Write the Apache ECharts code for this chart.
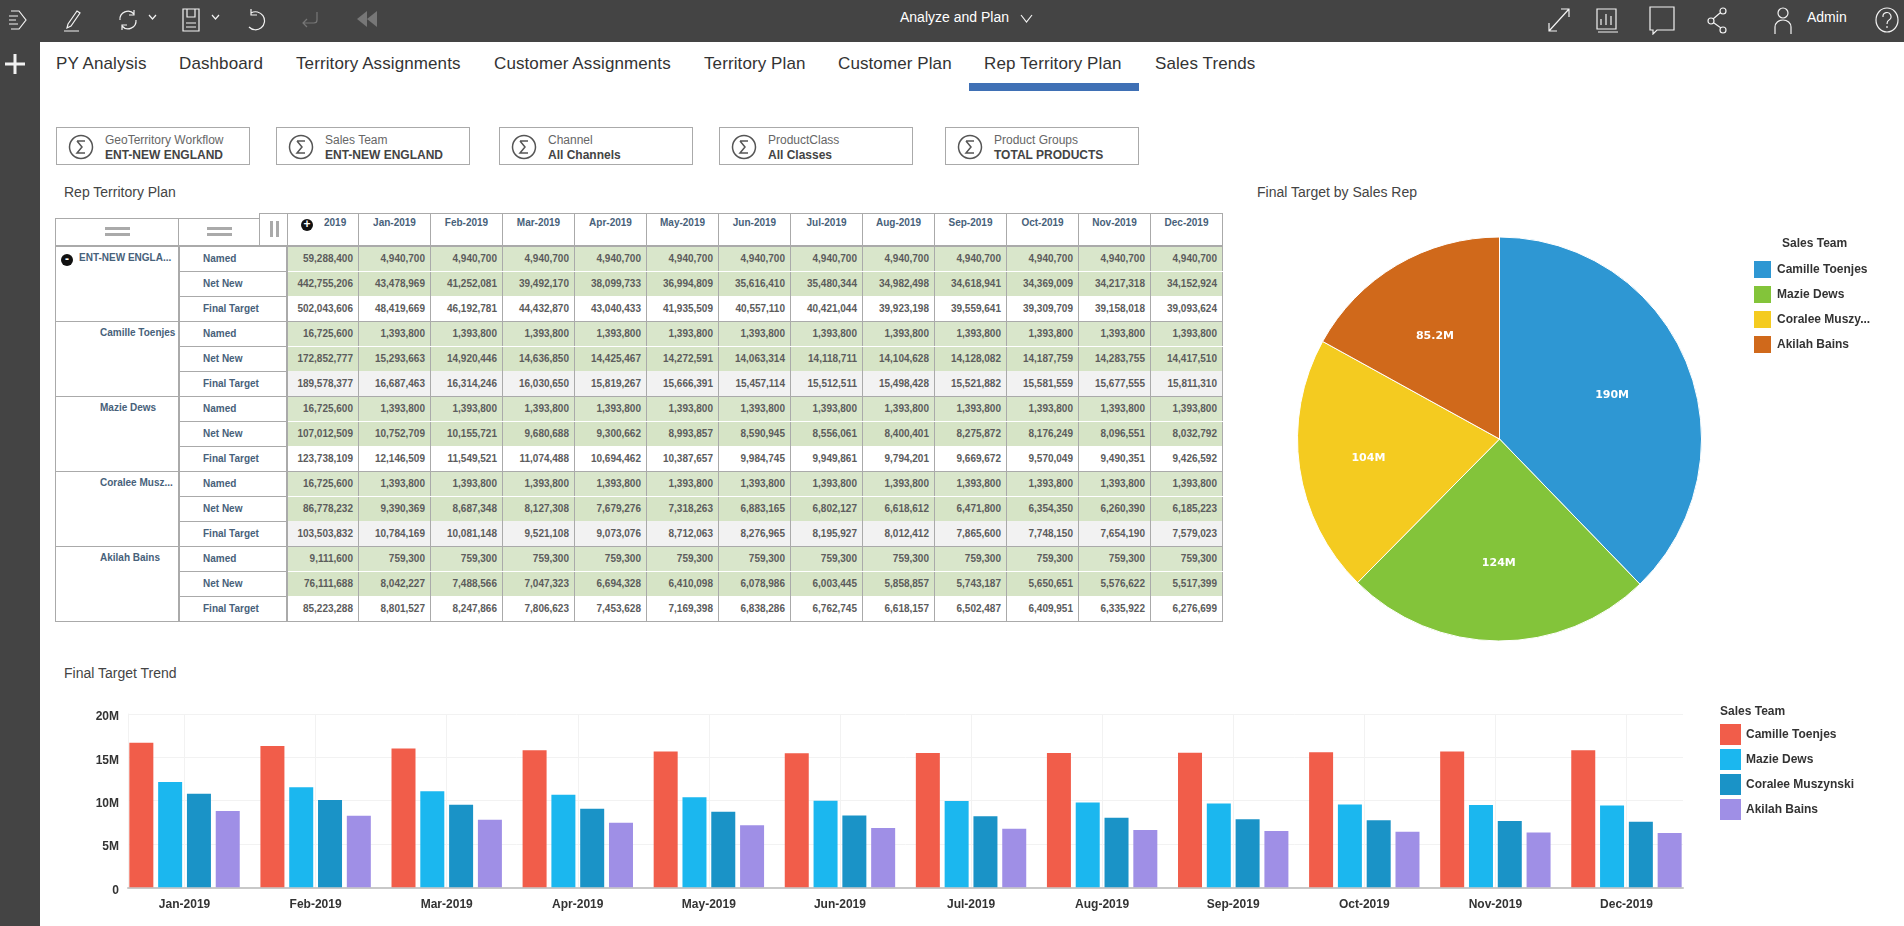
<!DOCTYPE html>
<html>
<head>
<meta charset="utf-8">
<title>Rep Territory Plan</title>
<script src="https://cdn.jsdelivr.net/npm/echarts@6/dist/echarts.min.js"></script>
<style>
    html, body { margin: 0; padding: 0; width: 1904px; height: 926px; overflow: hidden; background: #fff;
        font-family: "Liberation Sans", Arial, sans-serif; color: #333; }
    .abs { position: absolute; white-space: nowrap; }
    #topbar { position: absolute; left: 0; top: 0; width: 1904px; height: 42px; background: #444; }
    #sidebar { position: absolute; left: 0; top: 42px; width: 40px; height: 884px; background: #444; }
    #topbar svg, #sidebar svg { position: absolute; fill: none; stroke: #f2f2f2; stroke-width: 1.2; }
    .toptext { color: #fff; font-size: 14px; top: 9px; }
    .tab { font-size: 17px; color: #333; top: 54px; line-height: 20px; letter-spacing: 0.1px; }
    #tabline { position: absolute; left: 969px; top: 83px; width: 170px; height: 8px; background: #3f70b5; }
    .filter { position: absolute; top: 127px; width: 192px; height: 36px; border: 1px solid #aaa; background: #fff; }
    .filter svg { position: absolute; left: 11px; top: 6px; }
    .filter .l1 { position: absolute; left: 48px; top: 5px; font-size: 12px; color: #666; white-space: nowrap; }
    .filter .l2 { position: absolute; left: 48px; top: 20px; font-size: 12px; color: #444; font-weight: bold; white-space: nowrap; }
    .sectitle { font-size: 14px; color: #444; }
    table { border-collapse: collapse; table-layout: fixed; position: absolute; font-size: 10px; font-weight: bold; }
    #headtable { left: 287px; top: 213px; border: 1px solid #aaa; }
    #headtable td { height: 31px; width: 71px; border-left: 1px solid #aaa; padding: 0; color: #47617a;
        text-align: center; vertical-align: top; line-height: 17px; }
    #headtable td:first-child { text-align: left; padding-left: 36px; width: 34px; }
    #bodytable { left: 55px; top: 245px; border: 1px solid #aaa; border-top: 2px solid #aaa; }
    #bodytable tr { height: 25px; }
    #bodytable td { padding: 0; box-sizing: content-box; overflow: hidden; white-space: nowrap; }
    #bodytable td.group { width: 122px; vertical-align: top; color: #47617a; border-right: 2px solid #aaa;
        border-top: 1px solid #aaa; text-align: left; padding-top: 5px; }
    #bodytable td.rowname { width: 106px; color: #47617a; border-bottom: 1px solid #aaa; border-right: 2px solid #aaa;
        padding-left: 0; text-indent: 23px; }
    #bodytable td.num { width: 66px; text-align: right; padding-right: 5px; color: #5c5c5c; border-right: 1px solid #aaa; }
    #bodytable td.total { width: 65px; }
    #bodytable tr.named td.num { background: #d9e6cb; border-bottom: 1px solid #fff; }
    #bodytable tr.netnew td.num { background: #d6e4c6; }
    #bodytable tr.final td.num { background: #fff; }
    #bodytable tr.alt td.num { background: #f2f2f2; }
    #bodytable tr.lastrow td { border-bottom: 1px solid #aaa; }
    #bodytable tr.named td { border-top: 1px solid #aaa; }
    .handle { position: absolute; background: #fff; border: 1px solid #aaa; box-sizing: border-box; }
    .handle i { position: absolute; background: #aaa; }
    .expander { position: absolute; width: 12px; height: 12px; border-radius: 50%; background: #111; color: #fff;
        font: bold 12px/11px "Liberation Sans", Arial, sans-serif; text-align: center; }
    #pieChart { position: absolute; left: 1240px; top: 170px; width: 664px; height: 490px; }
    #barChart { position: absolute; left: 40px; top: 690px; width: 1864px; height: 236px; }
</style>
</head>
<body>
<div id="topbar">
    <svg style="left:8px;top:8px" width="20" height="24" viewBox="0 0 20 24"><path d="M3 3h8l7 9-7 9H3M1 8h9M1 12h7M1 16h9"/></svg>
    <svg style="left:62px;top:7px" width="20" height="26" viewBox="0 0 20 26"><path d="M6 17l9-13 3 2-9 13-4 2zM2 24h15"/></svg>
    <svg style="left:116px;top:7px" width="24" height="26" viewBox="0 0 24 26"><path d="M4 13a8 8 0 0 1 14-6M20 13a8 8 0 0 1-14 6M18 3v5h-5M6 23v-5h5"/></svg>
    <svg style="left:148px;top:14px" width="9" height="7" viewBox="0 0 9 7"><path d="M1 1l3.500 4 3.500-4"/></svg>
    <svg style="left:181px;top:7px" width="20" height="26" viewBox="0 0 20 26"><path d="M2 2h16v22H2zM6 2v8h8V2M5 16h10M5 20h10"/></svg>
    <svg style="left:211px;top:14px" width="9" height="7" viewBox="0 0 9 7"><path d="M1 1l3.500 4 3.500-4"/></svg>
    <svg style="left:243px;top:7px" width="24" height="26" viewBox="0 0 24 26"><path d="M8 6a9 9 0 1 1-2 14M8 2v6h6"/></svg>
    <svg style="left:299px;top:9px;stroke:#777" width="22" height="20" viewBox="0 0 22 20"><path d="M18 3v8a3 3 0 0 1-3 3H4M8 10l-4 4 4 4"/></svg>
    <svg style="left:356px;top:9px;fill:#777;stroke:none" width="22" height="20" viewBox="0 0 22 20"><path d="M11 2v16L1 10zM21 2v16L11 10z"/></svg>
    <span class="abs toptext" style="left:900px">Analyze and Plan</span>
    <svg style="left:1020px;top:14px" width="13" height="10" viewBox="0 0 13 10"><path d="M1 1l5.500 7L12 1"/></svg>
    <svg style="left:1546px;top:6px" width="26" height="28" viewBox="0 0 26 28"><path d="M3 25L23 3M15 3h8v8M3 17v8h8"/></svg>
    <svg style="left:1595px;top:6px" width="24" height="28" viewBox="0 0 24 28"><path d="M2 3h19v20H2zM3 26h20M6 19v-6M11 19V8M16 19v-9" /></svg>
    <svg style="left:1648px;top:5px" width="28" height="30" viewBox="0 0 28 30"><path d="M2 2h24v23H9l-4 4v-4H2z"/></svg>
    <svg style="left:1706px;top:5px" width="24" height="30" viewBox="0 0 24 30"><circle cx="17" cy="6" r="3"/><circle cx="5" cy="16" r="3"/><circle cx="17" cy="25" r="3"/><path d="M14 8l-7 6M8 18l7 5"/></svg>
    <svg style="left:1771px;top:6px" width="24" height="30" viewBox="0 0 24 30"><circle cx="12" cy="7" r="5"/><path d="M4 28v-7a8 7 0 0 1 16 0v7"/></svg>
    <span class="abs toptext" style="left:1807px">Admin</span>
    <svg style="left:1874px;top:5px" width="26" height="30" viewBox="0 0 26 30"><ellipse cx="13" cy="15" rx="11" ry="12"/><path d="M9 12a4 4 0 1 1 6 3c-2 1-2 2-2 4M13 21v2"/></svg>
</div>
<div id="sidebar">
    <svg style="left:4px;top:11px;stroke-width:3" width="22" height="22" viewBox="0 0 22 22"><path d="M11 1v20M1 11h20"/></svg>
</div>
<div id="tabs"></div>
<div id="tabline"></div>
<div id="filters"></div>
<div class="abs sectitle" style="left:64px;top:184px">Rep Territory Plan</div>
<div class="abs sectitle" style="left:1257px;top:184px">Final Target by Sales Rep</div>
<div class="abs sectitle" style="left:64px;top:665px">Final Target Trend</div>

<div class="handle" style="left:55px;top:218px;width:124px;height:28px"><i style="left:49px;top:8px;width:25px;height:3px"></i><i style="left:49px;top:14px;width:25px;height:3px"></i></div>
<div class="handle" style="left:178px;top:218px;width:82px;height:28px"><i style="left:28px;top:8px;width:25px;height:3px"></i><i style="left:28px;top:14px;width:25px;height:3px"></i></div>
<div class="handle" style="left:259px;top:213px;width:29px;height:33px"><i style="left:10px;top:7px;width:3px;height:16px"></i><i style="left:16px;top:7px;width:3px;height:16px"></i></div>
<table id="headtable"></table>
<table id="bodytable"></table>
<div class="expander" style="left:301px;top:219px">+</div>
<div class="expander" style="left:61px;top:254px">-</div>

<div id="pieChart"></div>
<div id="barChart"></div>

<script>
var tabNames = ['PY Analysis', 'Dashboard', 'Territory Assignments', 'Customer Assignments', 'Territory Plan', 'Customer Plan', 'Rep Territory Plan', 'Sales Trends'];
var tabLefts = [56, 179, 296, 494, 704, 838, 984, 1155];
var filterLabels = ['GeoTerritory Workflow', 'Sales Team', 'Channel', 'ProductClass', 'Product Groups'];
var filterValues = ['ENT-NEW ENGLAND', 'ENT-NEW ENGLAND', 'All Channels', 'All Classes', 'TOTAL PRODUCTS'];
var filterLefts = [56, 276, 499, 719, 945];

var months = ['Jan-2019', 'Feb-2019', 'Mar-2019', 'Apr-2019', 'May-2019', 'Jun-2019', 'Jul-2019', 'Aug-2019', 'Sep-2019', 'Oct-2019', 'Nov-2019', 'Dec-2019'];
var repNames = ['Camille Toenjes', 'Mazie Dews', 'Coralee Muszynski', 'Akilah Bains'];
var groupLabels = ['ENT-NEW ENGLA...', 'Camille Toenjes', 'Mazie Dews', 'Coralee Musz...', 'Akilah Bains'];
var rowLabels = ['Named', 'Net New', 'Final Target'];
var yTickLabels = ['0', '5M', '10M', '15M', '20M'];

// first value of every row is the 2019 total, the rest are Jan..Dec
var entNamed = [59288400, 4940700, 4940700, 4940700, 4940700, 4940700, 4940700, 4940700, 4940700, 4940700, 4940700, 4940700, 4940700];
var entNetNew = [442755206, 43478969, 41252081, 39492170, 38099733, 36994809, 35616410, 35480344, 34982498, 34618941, 34369009, 34217318, 34152924];
var entFinal = [502043606, 48419669, 46192781, 44432870, 43040433, 41935509, 40557110, 40421044, 39923198, 39559641, 39309709, 39158018, 39093624];
var camilleNamed = [16725600, 1393800, 1393800, 1393800, 1393800, 1393800, 1393800, 1393800, 1393800, 1393800, 1393800, 1393800, 1393800];
var camilleNetNew = [172852777, 15293663, 14920446, 14636850, 14425467, 14272591, 14063314, 14118711, 14104628, 14128082, 14187759, 14283755, 14417510];
var camilleFinal = [189578377, 16687463, 16314246, 16030650, 15819267, 15666391, 15457114, 15512511, 15498428, 15521882, 15581559, 15677555, 15811310];
var mazieNamed = [16725600, 1393800, 1393800, 1393800, 1393800, 1393800, 1393800, 1393800, 1393800, 1393800, 1393800, 1393800, 1393800];
var mazieNetNew = [107012509, 10752709, 10155721, 9680688, 9300662, 8993857, 8590945, 8556061, 8400401, 8275872, 8176249, 8096551, 8032792];
var mazieFinal = [123738109, 12146509, 11549521, 11074488, 10694462, 10387657, 9984745, 9949861, 9794201, 9669672, 9570049, 9490351, 9426592];
var coraleeNamed = [16725600, 1393800, 1393800, 1393800, 1393800, 1393800, 1393800, 1393800, 1393800, 1393800, 1393800, 1393800, 1393800];
var coraleeNetNew = [86778232, 9390369, 8687348, 8127308, 7679276, 7318263, 6883165, 6802127, 6618612, 6471800, 6354350, 6260390, 6185223];
var coraleeFinal = [103503832, 10784169, 10081148, 9521108, 9073076, 8712063, 8276965, 8195927, 8012412, 7865600, 7748150, 7654190, 7579023];
var akilahNamed = [9111600, 759300, 759300, 759300, 759300, 759300, 759300, 759300, 759300, 759300, 759300, 759300, 759300];
var akilahNetNew = [76111688, 8042227, 7488566, 7047323, 6694328, 6410098, 6078986, 6003445, 5858857, 5743187, 5650651, 5576622, 5517399];
var akilahFinal = [85223288, 8801527, 8247866, 7806623, 7453628, 7169398, 6838286, 6762745, 6618157, 6502487, 6409951, 6335922, 6276699];

var pieColors = ['#2e97d3', '#83c43a', '#f4cb20', '#d0691b'];
var barColors = ['#f15d4a', '#1bb7ef', '#1a93c7', '#9f8fe6'];

/**
 * 页面上的标签和筛选框
 */
function buildChrome() {
    var html = '';
    for (var i in tabNames) {
        html += '<span class="abs tab" style="left:' + tabLefts[i] + 'px">' + tabNames[i] + '</span>';
    }
    document.getElementById('tabs').innerHTML = html;

    var sigma = '<svg width="26" height="26" viewBox="0 0 26 26"><circle cx="13" cy="13" r="11.500" fill="none" stroke="#555" stroke-width="1.500"/>'
        + '<path d="M9 7h8M9 7l5 6-5 6h8" fill="none" stroke="#555" stroke-width="1.500"/></svg>';
    html = '';
    for (var j in filterLabels) {
        html += '<div class="filter" style="left:' + filterLefts[j] + 'px">' + sigma
            + '<div class="l1">' + filterLabels[j] + '</div><div class="l2">' + filterValues[j] + '</div></div>';
    }
    document.getElementById('filters').innerHTML = html;
}

/**
 * 生成表格
 */
function buildTable() {
    var head = '<tr><td>2019</td>';
    for (var m in months) {
        head += '<td>' + months[m] + '</td>';
    }
    document.getElementById('headtable').innerHTML = head + '</tr>';

    var groups = [
        [entNamed, entNetNew, entFinal],
        [camilleNamed, camilleNetNew, camilleFinal],
        [mazieNamed, mazieNetNew, mazieFinal],
        [coraleeNamed, coraleeNetNew, coraleeFinal],
        [akilahNamed, akilahNetNew, akilahFinal]
    ];
    var rowClass = ['named', 'netnew', 'final'];
    var body = '';
    for (var g = 0; g < groups.length; g++) {
        for (var r = 0; r < 3; r++) {
            var cls = rowClass[r];
            if (r == 2 && (g == 1 || g == 3)) cls += ' alt';
            if (r == 2) cls += ' lastrow';
            body += '<tr class="' + cls + '">';
            if (r == 0) {
                var pad = g == 0 ? 23 : 44;
                body += '<td class="group" rowspan="3" style="padding-left:' + pad + 'px;width:' + (122 - pad) + 'px">' + groupLabels[g] + '</td>';
            }
            body += '<td class="rowname">' + rowLabels[r] + '</td>';
            for (var c = 0; c < 13; c++) {
                body += '<td class="num' + (c == 0 ? ' total' : '') + '">' + groups[g][r][c].toLocaleString('en-US') + '</td>';
            }
            body += '</tr>';
        }
    }
    document.getElementById('bodytable').innerHTML = body;
}

function displayPie() {
    var pieChart = echarts.init(document.getElementById('pieChart'));
    var pieTotals = [camilleFinal[0], mazieFinal[0], coraleeFinal[0], akilahFinal[0]];
    var pieLabels = ['190M', '124M', '104M', '85.2M'];
    var pieData = [];
    for (var i in repNames) {
        pieData.push({ name: repNames[i], value: pieTotals[i], itemStyle: { color: pieColors[i] } });
    }
    pieChart.setOption({
        animation: false,
        title: {
            text: 'Sales Team', left: 542, top: 68, padding: 0,
            textStyle: { fontFamily: 'Liberation Sans', fontSize: 12, fontWeight: 'bold', color: '#333' }
        },
        legend: {
            left: 512, top: 89, padding: 0, orient: 'vertical', icon: 'rect', itemWidth: 19, itemHeight: 19, itemGap: 4,
            data: repNames,
            textStyle: { fontFamily: 'Liberation Sans', fontSize: 12, fontWeight: 'bold', color: '#333', width: 98, overflow: 'truncate', ellipsis: '...' }
        },
        series: [{
            type: 'pie',
            center: [259.5, 269],
            radius: [0, 202],
            startAngle: 90,
            clockwise: true,
            data: pieData,
            itemStyle: { borderColor: '#fff', borderWidth: 1 },
            labelLine: { show: false },
            label: {
                position: 'inside', color: '#fff', fontFamily: 'DejaVu Sans', fontSize: 11, fontWeight: 'bold',
                formatter: function (p) { return pieLabels[p.dataIndex]; }
            },
            // 标签放在 0.6 半径处，inside 默认是 0.5
            labelLayout: function (p) {
                var mx = p.rect.x + p.rect.width / 2;
                var my = p.rect.y + p.rect.height / 2;
                var nudgeX = [-4, 0, -8, 6];
                var nudgeY = [1, 0, 0, 7];
                return { dx: (mx - 259.5) * 0.2 + nudgeX[p.dataIndex], dy: (my - 269) * 0.2 + nudgeY[p.dataIndex] };
            }
        }]
    });
}

function displayBars() {
    var barChart = echarts.init(document.getElementById('barChart'));
    var repFinals = [camilleFinal, mazieFinal, coraleeFinal, akilahFinal];
    var series = [];
    for (var i in repNames) {
        series.push({
            name: repNames[i], type: 'bar', xAxisIndex: 0, yAxisIndex: 0,
            data: repFinals[i].slice(1),
            barWidth: 24, barGap: '20%',
            itemStyle: { color: barColors[i] }
        });
    }
    var labelFont = { fontFamily: 'Liberation Sans', fontSize: 12, fontWeight: 'bold', color: '#333' };
    barChart.setOption({
        animation: false,
        title: {
            text: 'Sales Team', left: 1680, top: 16, padding: 0,
            textStyle: labelFont
        },
        legend: {
            left: 1680, top: 34, padding: 0, orient: 'vertical', icon: 'rect', itemWidth: 21, itemHeight: 21, itemGap: 4,
            data: repNames,
            textStyle: labelFont
        },
        // grid 0 holds the bars, grid 1 only the shorter axis lines and the y labels
        grid: [
            { left: 79, top: 24, width: 1573, height: 173.300 },
            { left: 88, top: 24, width: 1555, height: 173.300 }
        ],
        xAxis: [{
            gridIndex: 0, type: 'category', data: months,
            axisLine: { show: false },
            axisTick: { show: false },
            axisLabel: Object.assign({ margin: 11, interval: 0 }, labelFont),
            splitLine: { show: true, alignWithLabel: true, lineStyle: { color: '#f2f2f2' } }
        }, {
            gridIndex: 1, type: 'value', min: 0, max: 1,
            axisLine: { show: true, lineStyle: { color: '#c8c8c8', width: 2 } },
            axisTick: { show: false }, axisLabel: { show: false }, splitLine: { show: false }
        }],
        yAxis: [{
            gridIndex: 0, type: 'value', min: 0, max: 20000000, show: false, splitLine: { show: false }
        }, {
            gridIndex: 1, type: 'value', min: 0, max: 20000000, interval: 5000000,
            axisLine: { show: true, lineStyle: { color: '#f2f2f2' } },
            axisTick: { show: false },
            // labels sit a little below their grid lines in the original
            axisLabel: Object.assign({ margin: 9, verticalAlign: 'top', lineHeight: 6, formatter: function (v, idx) { return yTickLabels[idx]; } }, labelFont),
            splitLine: { show: true, lineStyle: { color: '#f2f2f2' } }
        }],
        series: series
    });
}

buildChrome();
buildTable();
displayPie();
displayBars();
</script>
</body>
</html>
